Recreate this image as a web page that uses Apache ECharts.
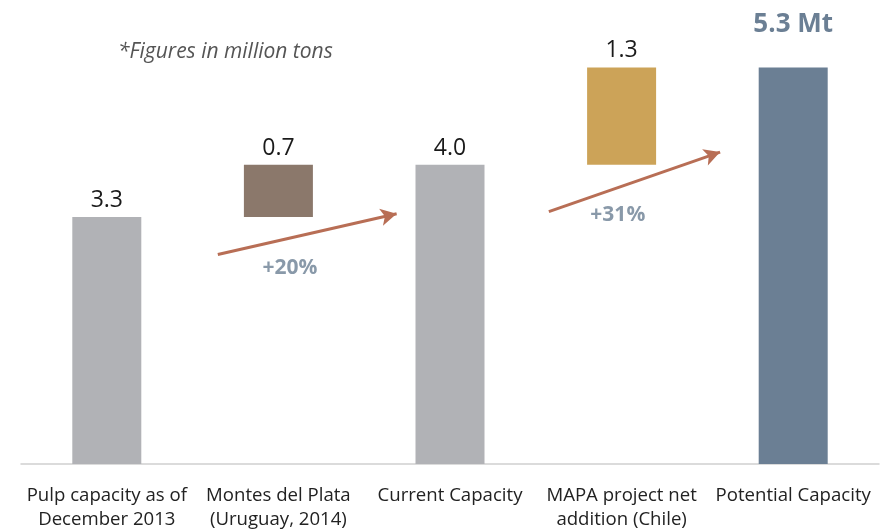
<!DOCTYPE html>
<html><head><meta charset="utf-8">
<script src="https://cdn.jsdelivr.net/npm/echarts@6/dist/echarts.min.js"></script>
<style>html,body{margin:0;padding:0;background:#fff}#c{width:884px;height:532px}</style>
</head><body><div id="c"></div>
<script>
const categories = ['Pulp capacity as of\nDecember 2013', 'Montes del Plata\n(Uruguay, 2014)', 'Current Capacity', 'MAPA project net\naddition (Chile)', 'Potential Capacity'];
const baseValues = [0, 3.3, 0, 4.0, 0];
const barValues = [3.3, 0.7, 4.0, 1.3, 5.3];
const barLabels = ['3.3', '0.7', '4.0', '1.3', '5.3 Mt'];
const barColors = ['#b1b2b6', '#8b786b', '#b1b2b6', '#cca358', '#6b7f94'];
const arrows = [[[0.647, 2.80], [1.689, 3.345]], [[2.576, 3.372], [3.574, 4.168]]];
const growthLabels = [[1.067, 2.615, '+20%'], [2.978, 3.332, '+31%']];
const note = '*Figures in million tons';

const chart = echarts.init(document.getElementById('c'));
const FONT = '"Open Sans", sans-serif';
chart.setOption({
  animation: false,
  textStyle: { fontFamily: FONT },
  title: { text: note, left: 113, top: 37, textStyle: { fontFamily: FONT, fontStyle: 'italic', fontWeight: 'normal', fontSize: 21, color: '#555' } },
  grid: { left: 21, right: 5, top: 15, bottom: 65 },
  xAxis: [{
    type: 'category', data: categories,
    axisLine: { lineStyle: { color: '#cfcfcf', width: 1.5 } },
    axisTick: { show: false },
    axisLabel: { fontSize: 18.6, color: '#222', lineHeight: 24, margin: 20, interval: 0 }
  }, {
    type: 'value', min: -0.5, max: 4.5, show: false
  }],
  yAxis: [{ type: 'value', min: 0, max: 6, show: false }],
  series: [
    { type: 'bar', stack: 'w', data: baseValues, itemStyle: { color: 'transparent' }, barWidth: 69, silent: true },
    { type: 'bar', stack: 'w', barWidth: 69,
      data: barValues.map((v, i) => ({
        value: v,
        itemStyle: { color: barColors[i] },
        label: i === 4 ? { show: true, position: 'top', distance: 30, formatter: barLabels[i], fontSize: 26, fontWeight: 'bold', color: '#6b7f94' }
                       : { show: true, position: 'top', distance: 5, formatter: barLabels[i], fontSize: 23, color: '#1a1a1a' }
      }))
    },
    { type: 'scatter', xAxisIndex: 1, symbolSize: 0,
      data: growthLabels.map(g => ({ value: [g[0], g[1]], label: { show: true, position: 'inside', formatter: g[2], fontSize: 21, fontWeight: 'bold', color: '#6b7f94' } })),
      markLine: {
        silent: true, symbol: ['none', 'arrow'], symbolSize: [13, 16],
        lineStyle: { color: '#b86e55', width: 3, type: 'solid' },
        label: { show: false },
        data: arrows.map(a => [{ coord: a[0] }, { coord: a[1] }])
      }
    }
  ]
});
</script></body></html>
